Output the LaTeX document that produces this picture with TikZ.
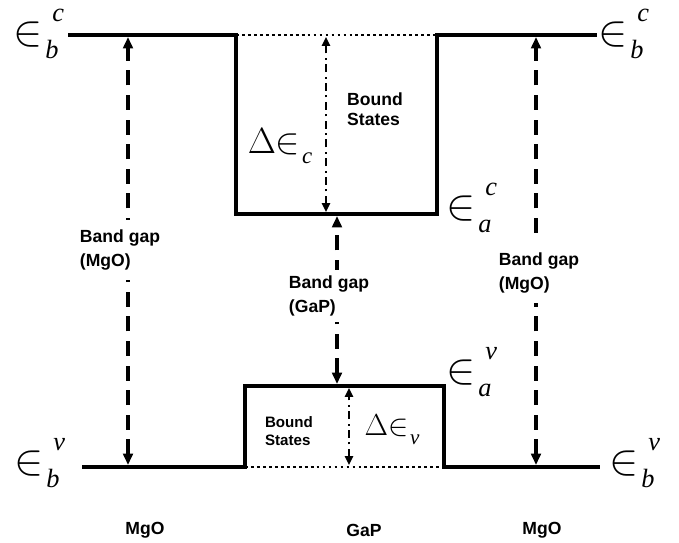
\documentclass[tikz,border=0pt]{standalone}
\usepackage{amsmath,amssymb}
\usepackage{fontspec}
\setsansfont{Liberation Sans}
\newfontfamily\timesf{Liberation Serif}
\usetikzlibrary{arrows.meta,positioning}

\newcommand{\elev}[2]{$\mathord{\in}$\kern1.5pt\rlap{\raisebox{13.6pt}{\fontsize{15}{15}\selectfont\timesf\itshape\kern4pt #1}}\raisebox{-7.5pt}{\fontsize{15}{15}\selectfont\timesf\itshape #2}}

\begin{document}
\begin{tikzpicture}[x=0.02cm, y=-0.02cm,
    level/.style={line width=1.8pt, line join=miter},
    ghost/.style={line width=1.4pt, dash pattern=on 1.6pt off 1.8pt},
    gaparrow/.style={line width=2pt, dash pattern=on 8.5pt off 5.5pt,
      {Triangle[length=6.5pt,width=5.5pt]}-{Triangle[length=6.5pt,width=5.5pt]}},
    offarrow/.style={line width=1.2pt, dash pattern=on 4.5pt off 2.5pt on 1.2pt off 2.5pt,
      {Triangle[length=5pt,width=4.5pt]}-{Triangle[length=5pt,width=4.5pt]}},
    txt/.style={font=\sffamily\bfseries\fontsize{10}{13.5}\selectfont, align=left},
    gaplbl/.style={txt, fill=white, inner sep=0.2cm},
    en/.style={font=\fontsize{25}{28}\selectfont, inner sep=0pt}]
    \useasboundingbox (0,0) rectangle (679,542);

    \coordinate (cbL) at (68,35);
    \coordinate (cb1) at (236,35);
    \coordinate (ca1) at (236,214);
    \coordinate (ca2) at (437,214);
    \coordinate (cb2) at (437,35);
    \coordinate (cbR) at (597,35);
    \coordinate (vbL) at (82,467);
    \coordinate (vb1) at (245,467);
    \coordinate (va1) at (245,386);
    \coordinate (va2) at (444,386);
    \coordinate (vb2) at (444,467);
    \coordinate (vbR) at (600,467);

    \draw[ghost] (cb1) -- (cb2);
    \draw[ghost] (vb1) -- (vb2);
    \draw[level] (cbL) -- (cb1) -- (ca1) -- (ca2) -- (cb2) -- (cbR);
    \draw[level] (vbL) -- (vb1) -- (va1) -- (va2) -- (vb2) -- (vbR);

    \node[en] (ebcL) at (36,34)  {\elev{c}{b}};
    \node[en] (ebcR) at (621,34) {\elev{c}{b}};
    \node[en] (eac)  at (469,208) {\elev{c}{a}};
    \node[en] (eav)  at (469,372) {\elev{v}{a}};
    \node[en] (ebvL) at (37,463) {\elev{v}{b}};
    \node[en] (ebvR) at (632,463) {\elev{v}{b}};

    \coordinate (gLt) at (128,37);
    \coordinate (gLb) at (128,465);
    \coordinate (gRt) at (536,37);
    \coordinate (gRb) at (536,465);
    \coordinate (gGt) at (337,216);
    \coordinate (gGb) at (337,384);
    \coordinate (dct) at (326,37);
    \coordinate (dcb) at (326,212);
    \coordinate (dvt) at (349,388);
    \coordinate (dvb) at (349,465);

    \draw[gaparrow] (gLb) -- (gLt);
    \draw[gaparrow] (gRb) -- (gRt);
    \draw[gaparrow] (gGb) -- (gGt);
    \draw[offarrow] (dcb) -- (dct);
    \draw[offarrow] (dvb) -- (dvt);

    \node[gaplbl] (lgL) at (120,250) {Band gap\\(MgO)};
    \node[gaplbl] (lgR) at (539,273) {Band gap\\(MgO)};
    \node[gaplbl, inner ysep=0.12cm] (lgG) at (329,296) {Band gap\\(GaP)};

    \node[font=\fontsize{21}{24}\selectfont, inner sep=0pt] (dEc) at (280,146) {$\Delta\mathord{\in}$\kern1pt\raisebox{-6pt}{\fontsize{13}{13}\selectfont\timesf\itshape c}};
    \node[font=\fontsize{18}{20}\selectfont, inner sep=0pt] (dEv) at (392,430) {$\Delta\mathord{\in}$\kern1pt\raisebox{-5pt}{\fontsize{12}{12}\selectfont\timesf\itshape v}};

    \node[txt, font=\sffamily\bfseries\fontsize{10}{11.4}\selectfont] (bsc) at (375,109) {Bound\\States};
    \node[txt, font=\sffamily\bfseries\fontsize{8.6}{10.6}\selectfont] (bsv) at (289,431) {Bound\\States};

    \node[txt] (mgoL) at (145,530) {MgO};
    \node[txt] (gap)  at (364,530) {GaP};
    \node[txt] (mgoR) at (542,530) {MgO};
\end{tikzpicture}
\end{document}
